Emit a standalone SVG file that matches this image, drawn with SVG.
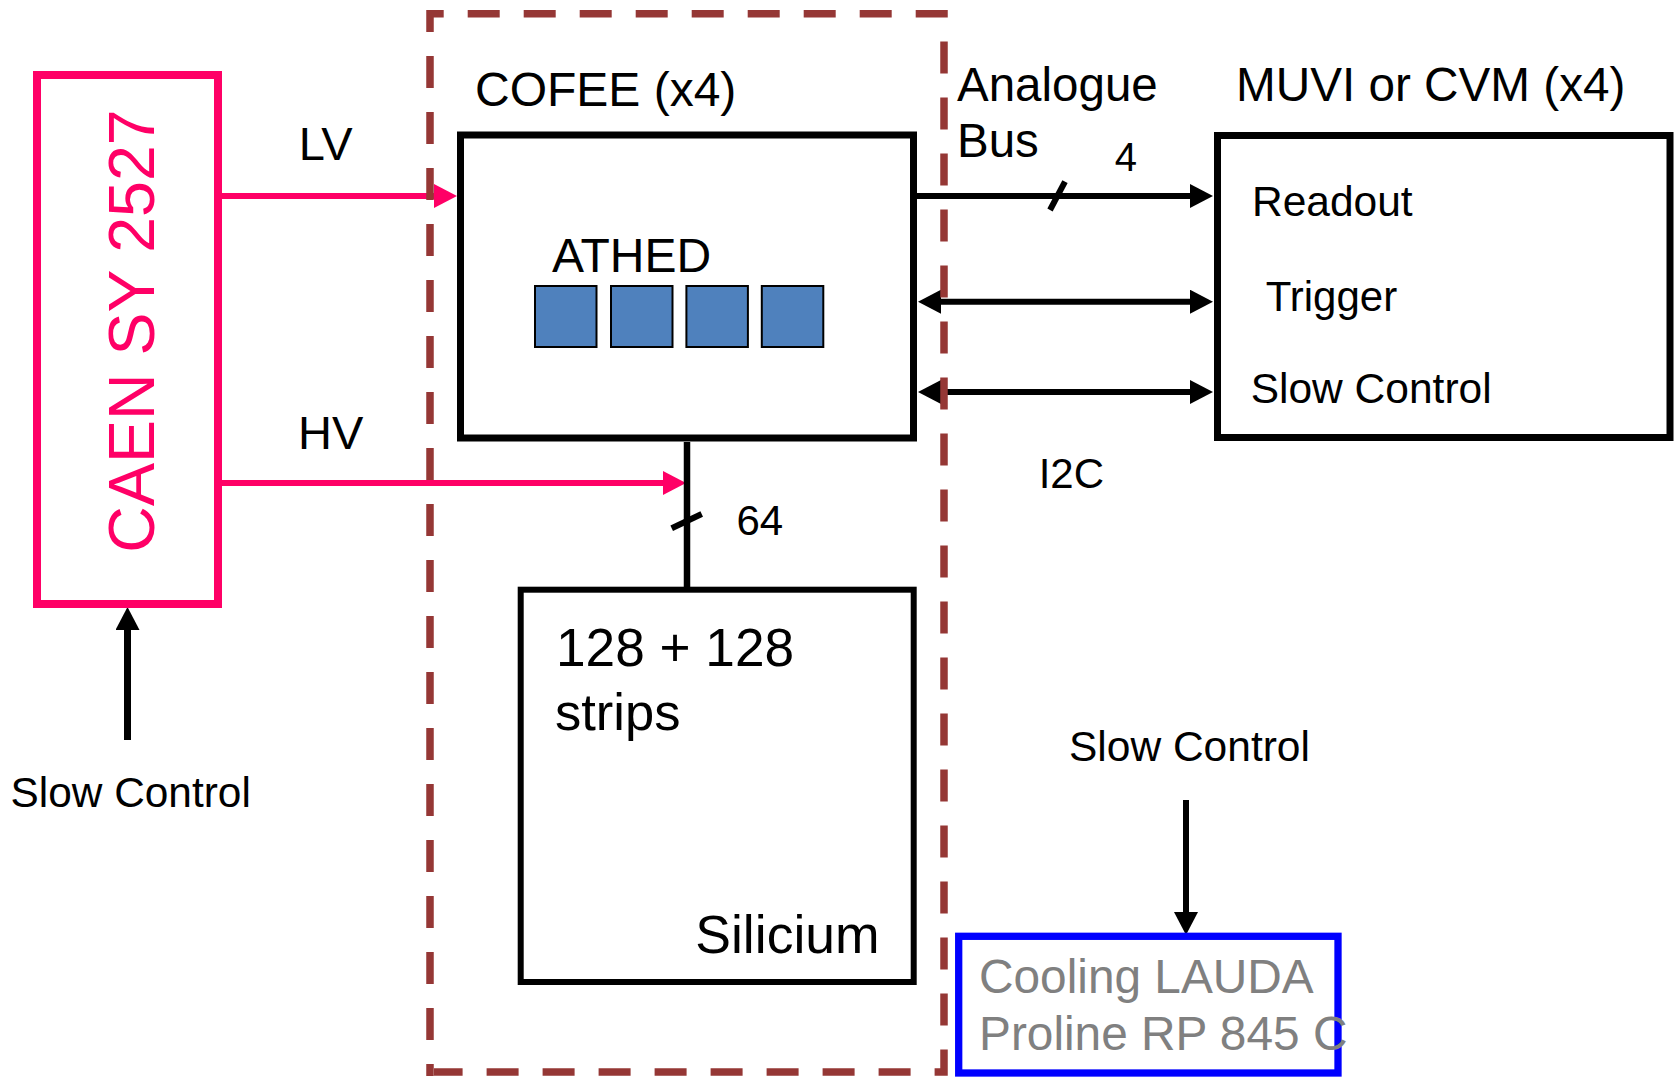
<svg xmlns="http://www.w3.org/2000/svg" width="1679" height="1077" viewBox="0 0 1679 1077">
<style>
text{font-family:"Liberation Sans",Arial,sans-serif;fill:#000}
.box{fill:#fff;stroke:#000}
.conn{fill:none;stroke:#000;stroke-width:6}
.pink{stroke:#FF0066}
.chip{fill:#4F81BD;stroke:#000;stroke-width:2}
.frame{fill:none;stroke:#953735;stroke-width:7.5;stroke-dasharray:32 24}
</style>
<defs>
<marker id="ahk" viewBox="0 0 23 24" markerWidth="23" markerHeight="24" markerUnits="userSpaceOnUse" refX="1" refY="12" orient="auto-start-reverse"><path d="M0,0 L23,12 L0,24 z" fill="#000"/></marker>
<marker id="ahp" viewBox="0 0 23 24" markerWidth="23" markerHeight="24" markerUnits="userSpaceOnUse" refX="1" refY="12" orient="auto-start-reverse"><path d="M0,0 L23,12 L0,24 z" fill="#FF0066"/></marker>
</defs>
<rect width="1679" height="1077" fill="#fff"/>
<g id="connectors">
<path class="conn pink" d="M222,196 H435" marker-end="url(#ahp)"/>
<path class="conn pink" d="M222,483 H664" marker-end="url(#ahp)"/>
<path class="conn" d="M917,196 H1191" marker-end="url(#ahk)"/>
<path class="conn" d="M940,301.7 H1191" marker-start="url(#ahk)" marker-end="url(#ahk)"/>
<path class="conn" d="M940,392 H1191" marker-start="url(#ahk)" marker-end="url(#ahk)"/>
<path class="conn" d="M687,442 V587" style="stroke-width:6.5"/>
<path class="conn" d="M671.7,528.3 L701.7,514"/>
<path class="conn" d="M1050,210 L1065,181.7"/>
<path class="conn" d="M127.5,740 V629" style="stroke-width:7" marker-end="url(#ahk)"/>
<path class="conn" d="M1186,800 V913" marker-end="url(#ahk)"/>
</g>
<g id="cofee-frame">
<path class="frame" d="M430,32 V13.7 H944 V1072 H434"/>
<path class="frame" d="M430,1076 V40" stroke-dashoffset="20"/>
</g>
<g id="caen">
<rect x="37" y="75" width="181" height="529" fill="none" stroke="#FF0066" stroke-width="8"/>
<text transform="translate(154,331) rotate(-90)" text-anchor="middle" font-size="64.5" style="fill:#FF0066">CAEN SY 2527</text>
</g>
<g id="cofee">
<rect class="box" x="460.5" y="135" width="453" height="303" stroke-width="7"/>
<text x="475" y="106" font-size="48">COFEE (x4)</text>
<text x="552" y="271.7" font-size="48">ATHED</text>
<rect class="chip" x="535" y="286" width="61.5" height="61"/>
<rect class="chip" x="611" y="286" width="61.5" height="61"/>
<rect class="chip" x="686.4" y="286" width="61.5" height="61"/>
<rect class="chip" x="761.8" y="286" width="61.5" height="61"/>
</g>
<g id="silicium">
<rect class="box" x="520.7" y="589.7" width="393" height="392.3" stroke-width="6"/>
<text x="556" y="666" font-size="53.2">128 + 128</text>
<text x="555" y="730" font-size="52.5">strips</text>
<text x="695.3" y="952.7" font-size="53.5">Silicium</text>
</g>
<g id="muvi">
<rect class="box" x="1217.5" y="135.5" width="452.5" height="302" stroke-width="7"/>
<text x="1236" y="101" font-size="47.7">MUVI or CVM (x4)</text>
<text x="1252" y="216" font-size="42.5">Readout</text>
<text x="1265.7" y="311" font-size="42">Trigger</text>
<text x="1250.7" y="402.7" font-size="42.5">Slow Control</text>
</g>
<g id="cooling">
<rect x="958.7" y="936.3" width="379.3" height="136.7" fill="none" stroke="#0000FF" stroke-width="7.3"/>
<text x="979" y="992.7" font-size="47.8" style="fill:#808080">Cooling LAUDA</text>
<text x="979" y="1050" font-size="47.8" style="fill:#808080">Proline RP 845 C</text>
</g>
<g id="labels">
<text x="298.7" y="160" font-size="47">LV</text>
<text x="298" y="449" font-size="47">HV</text>
<text x="957" y="101" font-size="47.5">Analogue</text>
<text x="957" y="157.3" font-size="47.5">Bus</text>
<text x="1114.7" y="170.7" font-size="40">4</text>
<text x="1038.7" y="487.7" font-size="42">I2C</text>
<text x="736.5" y="535" font-size="42">64</text>
<text x="10.5" y="807" font-size="42.4">Slow Control</text>
<text x="1069" y="761" font-size="42.5">Slow Control</text>
</g>
</svg>
